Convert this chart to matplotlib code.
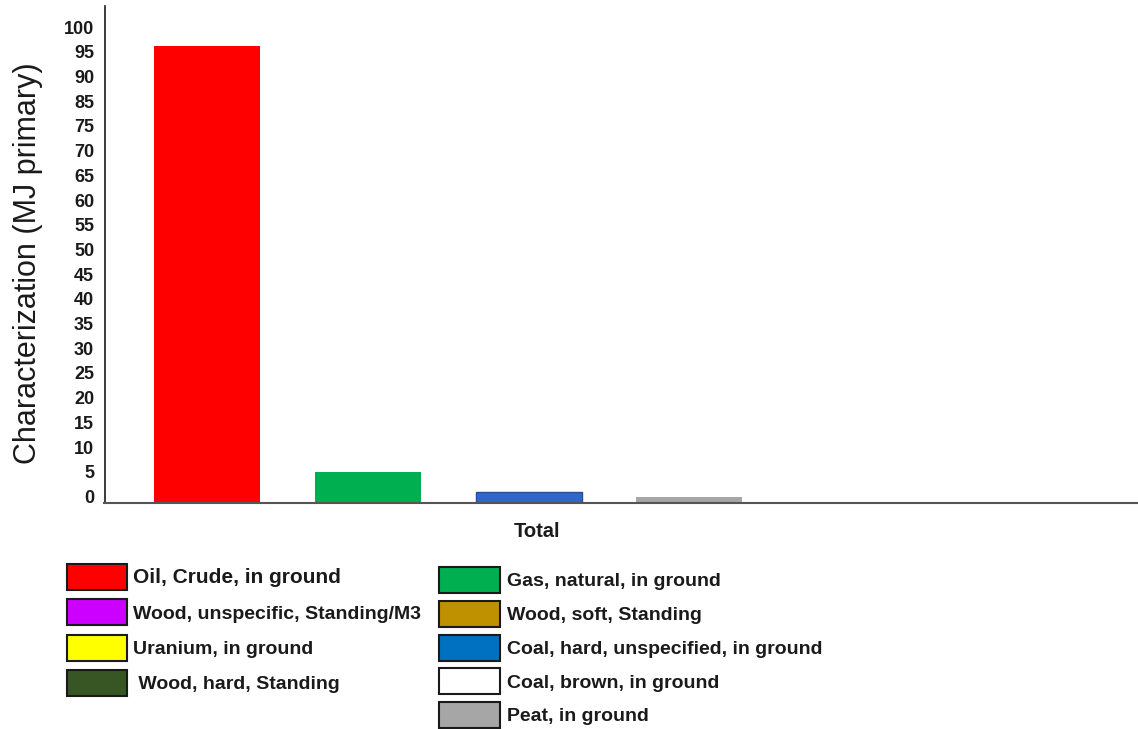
import numpy as np
import matplotlib
matplotlib.use("Agg")
import matplotlib.pyplot as plt
import matplotlib.transforms as mtransforms
from matplotlib.patches import Patch

plt.rcParams['font.family'] = ['Liberation Sans', 'DejaVu Sans']

# Resources, in bar order (left to right)
bar_names = [
    "Oil, Crude, in ground",
    "Gas, natural, in ground",
    "Coal, hard, unspecified, in ground",
    "Peat, in ground",
    "Coal, brown, in ground",
    "Uranium, in ground",
    "Wood, hard, Standing",
    "Wood, soft, Standing",
    "Wood, unspecific, Standing/M3",
]
bar_values = [97.5, 6.1, 2.2, 1.1, 0.08, 0.05, 0.02, 0.02, 0.01]

colors = {
    "Oil, Crude, in ground": "#FF0000",
    "Wood, unspecific, Standing/M3": "#CC00FF",
    "Uranium, in ground": "#FFFF00",
    "Wood, hard, Standing": "#375623",
    "Gas, natural, in ground": "#00B050",
    "Wood, soft, Standing": "#BF9000",
    "Coal, hard, unspecified, in ground": "#0070C0",
    "Coal, brown, in ground": "#FFFFFF",
    "Peat, in ground": "#A6A6A6",
}
bar_face = {"Coal, hard, unspecified, in ground": "#3366CC"}

legend_left = ["Oil, Crude, in ground", "Wood, unspecific, Standing/M3",
               "Uranium, in ground", " Wood, hard, Standing"]
legend_right = ["Gas, natural, in ground", "Wood, soft, Standing",
                "Coal, hard, unspecified, in ground", "Coal, brown, in ground",
                "Peat, in ground"]

y_tick_values = [0, 5, 10, 15, 20, 25, 30, 35, 40, 45, 50, 55, 60, 65, 70, 75,
                 85, 90, 95, 100]
category_label = "Total"
y_label = "Characterization (MJ primary)"


# Axis scale: the 75..85 band is compressed so labels stay evenly spaced
def fwd(v):
    v = np.asarray(v, dtype=float)
    return np.where(v <= 75, v, np.where(v <= 85, 75 + (v - 75) * 0.5, v - 5))


def inv(p):
    p = np.asarray(p, dtype=float)
    return np.where(p <= 75, p, np.where(p <= 80, 75 + (p - 75) * 2, p + 5))


fig = plt.figure(figsize=(11.38, 7.29), dpi=100)
ax = fig.add_axes([104.5 / 1138, 1 - 502.5 / 729, 1 - 104.5 / 1138, 496.5 / 729])

x = np.arange(len(bar_names))
for xi, name, val in zip(x, bar_names, bar_values):
    face = bar_face.get(name, colors[name])
    edge = "#254E96" if name in bar_face else "none"
    ax.bar(xi, val, width=0.66, color=face, edgecolor=edge,
           linewidth=1.0, zorder=2)

ax.set_yscale("function", functions=(fwd, inv))
ax.set_ylim(0, 105.5)
ax.set_xlim(-0.638, 5.79)

ax.set_yticks(y_tick_values)
ax.set_yticklabels([str(v) for v in y_tick_values])
ax.yaxis.set_minor_locator(matplotlib.ticker.NullLocator())
ax.tick_params(axis="y", length=0, pad=7.5, labelsize=13, labelcolor="#1a1a1a")
for lab in ax.get_yticklabels():
    lab.set_fontweight("bold")
    lab.set_transform(lab.get_transform() +
                      mtransforms.ScaledTranslation(0, 0.06, fig.dpi_scale_trans))

ax.set_xticks([2.05])
ax.set_xticklabels([category_label], fontsize=14.5, fontweight="bold")
ax.tick_params(axis="x", length=0, pad=14, labelcolor="#1a1a1a")

for s in ("top", "right"):
    ax.spines[s].set_visible(False)
ax.spines["left"].set_color("#1a1a1a")
ax.spines["left"].set_linewidth(1.2)
ax.spines["bottom"].set_color("#555555")
ax.spines["bottom"].set_linewidth(1.5)

fig.text(28 / 1138, 1 - 263 / 729, y_label, rotation=90, fontsize=22,
         ha="center", va="center", color="#1a1a1a")


def make_handles(names):
    return [Patch(facecolor=colors[n.strip()], edgecolor="#1a1a1a", linewidth=1.5)
            for n in names]


fs = 14
fs_px = fs * 100 / 72
# rectangle height in a legend = fs*(0.65*h + 0.245)
hh = (26 / fs_px - 0.245) / 0.65

leg1 = fig.legend(make_handles(legend_left), legend_left, loc="upper left",
                  bbox_to_anchor=(67 / 1138, 1 - 564 / 729), frameon=False,
                  borderpad=0, borderaxespad=0, fontsize=fs,
                  handlelength=60 / fs_px, handleheight=hh,
                  handletextpad=0.3, labelspacing=0.48)
for t in leg1.get_texts():
    t.set_fontweight("bold")
    t.set_color("#1a1a1a")
leg1.get_texts()[0].set_fontsize(15)

leg2 = fig.legend(make_handles(legend_right), legend_right, loc="upper left",
                  bbox_to_anchor=(439 / 1138, 1 - 567 / 729), frameon=False,
                  borderpad=0, borderaxespad=0, fontsize=fs,
                  handlelength=61 / fs_px, handleheight=hh,
                  handletextpad=0.35, labelspacing=0.4)
for t in leg2.get_texts():
    t.set_fontweight("bold")
    t.set_color("#1a1a1a")

fig.savefig("out.png", dpi=100)
